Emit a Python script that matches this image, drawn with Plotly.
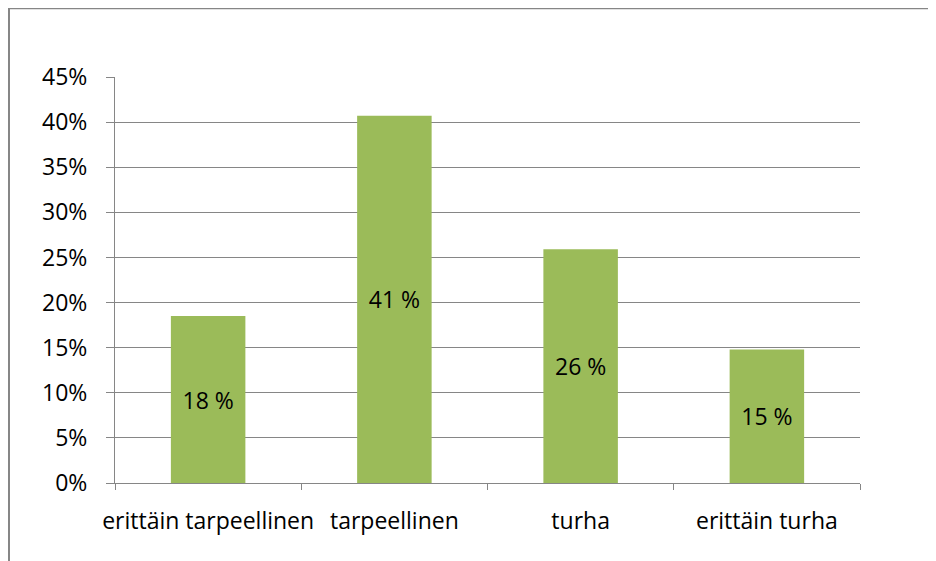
import plotly.graph_objects as go

categories = ["erittäin tarpeellinen", "tarpeellinen", "turha", "erittäin turha"]
shares = [0.185, 0.407, 0.259, 0.148]
bar_labels = ["18 %", "41 %", "26 %", "15 %"]

BAR_COLOR = "#9BBB59"
AXIS_COLOR = "#868686"
FONT = dict(family="Open Sans, Liberation Sans, sans-serif", size=23, color="#000000")

fig = go.Figure(
    go.Bar(
        x=categories,
        y=shares,
        width=0.4,
        marker=dict(color=BAR_COLOR, line=dict(width=0)),
        text=bar_labels,
        textposition="inside",
        insidetextanchor="middle",
        textangle=0,
        constraintext="none",
        textfont=FONT,
        hoverinfo="skip",
    )
)

# page body adds an 8px offset, so the figure is a bit smaller than the window
fig.update_layout(
    width=928,
    height=553,
    margin=dict(l=107, r=76, t=69, b=78),
    paper_bgcolor="white",
    plot_bgcolor="white",
    font=FONT,
    showlegend=False,
    shapes=[
        # outer chart frame, running off the bottom/right of the picture
        dict(
            type="rect", xref="paper", yref="paper",
            x0=-0.1423, x1=1.12, y0=-0.25, y1=1.1695,
            line=dict(color=AXIS_COLOR, width=2), layer="below",
        )
    ],
)

fig.update_xaxes(
    showline=True,
    linecolor=AXIS_COLOR,
    linewidth=1,
    ticks="outside",
    tickson="boundaries",
    ticklen=6,
    tickcolor=AXIS_COLOR,
    showgrid=False,
    tickfont=FONT,
    tickangle=0,
    automargin=False,
    ticklabelstandoff=17,
)
fig.update_yaxes(
    range=[0, 0.45],
    dtick=0.05,
    tickformat=".0%",
    showline=True,
    linecolor=AXIS_COLOR,
    linewidth=1,
    ticks="outside",
    ticklen=8,
    tickcolor=AXIS_COLOR,
    showgrid=True,
    gridcolor=AXIS_COLOR,
    gridwidth=1,
    zeroline=False,
    tickfont=FONT,
    automargin=False,
    ticklabelstandoff=14,
)

fig.write_html("out.html")
